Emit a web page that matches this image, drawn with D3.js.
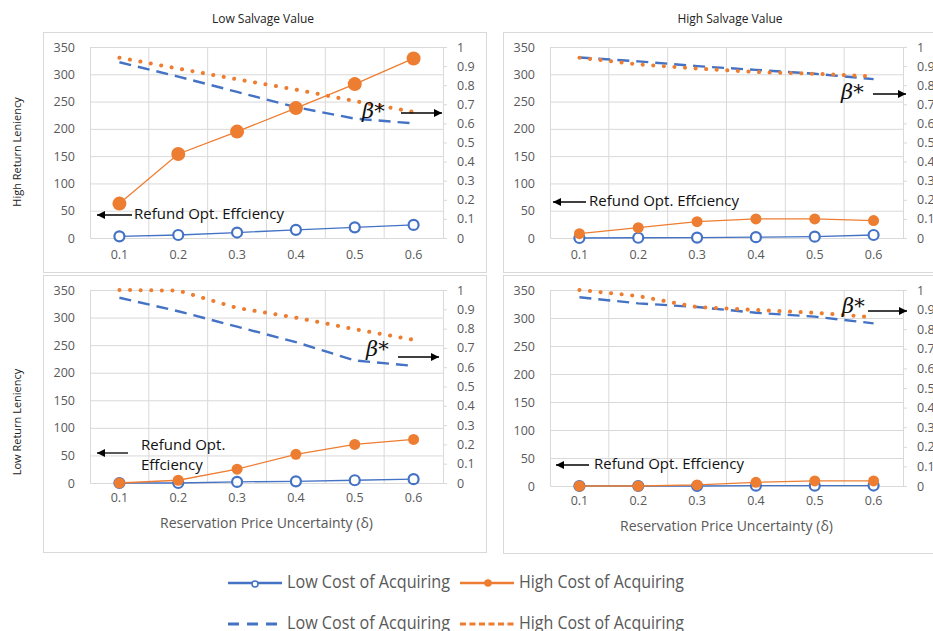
<!DOCTYPE html>
<html>
<head>
<meta charset="utf-8">
<script src="https://cdn.jsdelivr.net/npm/d3@7"></script>
<style>
  html, body { margin: 0; padding: 0; background: #fff; }
  svg { display: block; }
</style>
</head>
<body>
<svg id="chart" width="933" height="631"></svg>
<script>
// ---------------- DATA ----------------
const categories = ["0.1", "0.2", "0.3", "0.4", "0.5", "0.6"];
const leftTicks = [0, 50, 100, 150, 200, 250, 300, 350];
const rightTicks = [0, 0.1, 0.2, 0.3, 0.4, 0.5, 0.6, 0.7, 0.8, 0.9, 1];
const rightTickLabels = ["0", "0.1", "0.2", "0.3", "0.4", "0.5", "0.6", "0.7", "0.8", "0.9", "1"];

const panelTitles = ["Low Salvage Value", "High Salvage Value"];
const rowTitles = ["High Return Leniency", "Low Return Leniency"];
const xAxisTitle = "Reservation Price Uncertainty (\u03b4)";
const seriesNames = ["Low Cost of Acquiring", "High Cost of Acquiring"];

// Refund option efficiency (left axis)
const tlLowCostEff  = [3, 5.5, 10, 15, 19.5, 24];
const tlHighCostEff = [63, 154, 195, 238, 282, 329];
const trLowCostEff  = [0, 0.5, 0.8, 1.5, 2.5, 5.5];
const trHighCostEff = [8, 19, 30, 35, 35, 32];
const blLowCostEff  = [0, 0, 2, 3, 5, 7];
const blHighCostEff = [0, 5, 25, 52, 70, 79];
const brLowCostEff  = [0, 0, 0, 0.5, 0.5, 0.8];
const brHighCostEff = [0, 0, 2, 6.5, 9, 9];

// beta* (right axis)
const tlLowCostBeta  = [0.92, 0.845, 0.765, 0.685, 0.625, 0.60];
const tlHighCostBeta = [0.944, 0.887, 0.831, 0.777, 0.717, 0.66];
const trLowCostBeta  = [0.945, 0.925, 0.90, 0.88, 0.86, 0.832];
const trHighCostBeta = [0.944, 0.909, 0.887, 0.869, 0.86, 0.846];
const blLowCostBeta  = [0.96, 0.89, 0.81, 0.73, 0.635, 0.607];
const blHighCostBeta = [1.0, 0.997, 0.907, 0.857, 0.797, 0.742];
const brLowCostBeta  = [0.963, 0.932, 0.913, 0.884, 0.864, 0.83];
const brHighCostBeta = [1.0, 0.969, 0.913, 0.898, 0.884, 0.861];

// ---------------- STYLE / LAYOUT ----------------
const BLUE = "#4472C4", ORANGE = "#ED7D31", GRID = "#d9d9d9", AXIS_TXT = "#595959";
const FONT = "Open Sans, sans-serif";
const svg = d3.select("#chart");

const defs = svg.append("defs");
defs.append("marker").attr("id", "arrow")
  .attr("viewBox", "0 0 10 10").attr("refX", 10).attr("refY", 5)
  .attr("markerWidth", 10).attr("markerHeight", 8).attr("markerUnits", "userSpaceOnUse")
  .attr("orient", "auto")
  .append("path").attr("d", "M0,0 L10,5 L0,10 z").attr("fill", "#000");

// panel frames
const frames = [
  {x: 43, y: 32, w: 443, h: 240},
  {x: 503, y: 32, w: 440, h: 240},
  {x: 43, y: 275, w: 443, h: 277},
  {x: 503, y: 275, w: 440, h: 278}
];
svg.selectAll("rect.frame").data(frames).join("rect").attr("class", "frame")
  .attr("x", d => d.x + 0.5).attr("y", d => d.y + 0.5).attr("width", d => d.w).attr("height", d => d.h)
  .attr("fill", "none").attr("stroke", GRID).attr("stroke-width", 1);

const panels = [
  {left: 90, right: 443, top: 47, bottom: 238, xlab: 19, low: tlLowCostEff, high: tlHighCostEff, lowB: tlLowCostBeta, highB: tlHighCostBeta, bigDot: true,
   beta: {tx: 362, ty: 112, x1: 401, x2: 442, ay: 113},
   refund: {x1: 132, x2: 97, ay: 215, tx: 134, ty: 215, lines: ["Refund Opt. Effciency"]}},
  {left: 550, right: 903, top: 47, bottom: 238, xlab: 19, low: trLowCostEff, high: trHighCostEff, lowB: trLowCostBeta, highB: trHighCostBeta, bigDot: false,
   beta: {tx: 841, ty: 93, x1: 873, x2: 906, ay: 94},
   refund: {x1: 586, x2: 553, ay: 202, tx: 589, ty: 202, lines: ["Refund Opt. Effciency"]}},
  {left: 90, right: 443, top: 290, bottom: 483, xlab: 17, low: blLowCostEff, high: blHighCostEff, lowB: blLowCostBeta, highB: blHighCostBeta, bigDot: false, xTitle: 524,
   beta: {tx: 366, ty: 350, x1: 398, x2: 439, ay: 357},
   refund: {x1: 128, x2: 97, ay: 453, tx: 141, ty: 446, lines: ["Refund Opt.", "Effciency"]}},
  {left: 550, right: 903, top: 290, bottom: 486, xlab: 17, low: brLowCostEff, high: brHighCostEff, lowB: brLowCostBeta, highB: brHighCostBeta, bigDot: false, xTitle: 527,
   beta: {tx: 842, ty: 307, x1: 868, x2: 907, ay: 311},
   refund: {x1: 589, x2: 556, ay: 465, tx: 594, ty: 465, lines: ["Refund Opt. Effciency"]}}
];

panels.forEach((p, i) => {
  const g = svg.append("g");
  const x = d3.scaleBand().domain(categories).range([p.left, p.right]);
  const cx = c => x(c) + x.bandwidth() / 2;
  const yL = d3.scaleLinear().domain([0, 350]).range([p.bottom, p.top]);
  const yR = d3.scaleLinear().domain([0, 1]).range([p.bottom, p.top]);

  // horizontal gridlines
  g.append("g").attr("transform", `translate(${p.left},0)`)
    .call(d3.axisLeft(yL).tickValues(leftTicks.slice(1)).tickSize(-(p.right - p.left)).tickFormat(""))
    .call(s => s.select(".domain").remove())
    .call(s => s.selectAll("line").attr("stroke", GRID));
  // vertical gridlines at category boundaries
  const bounds = categories.slice(1).map(c => x(c));
  g.selectAll("line.vg").data(bounds).join("line").attr("class", "vg")
    .attr("x1", d => d).attr("x2", d => d).attr("y1", p.top).attr("y2", p.bottom)
    .attr("stroke", GRID);

  // left axis
  g.append("g").attr("transform", `translate(${p.left},0)`)
    .call(d3.axisLeft(yL).tickValues(leftTicks).tickSize(0).tickPadding(15))
    .call(s => s.select(".domain").attr("stroke", GRID))
    .call(s => s.selectAll("text").attr("fill", AXIS_TXT).attr("font-size", 12.5).attr("font-family", FONT));
  // right axis
  g.append("g").attr("transform", `translate(${p.right},0)`)
    .call(d3.axisRight(yR).tickValues(rightTicks).tickSize(4).tickPadding(10).tickFormat((d, j) => rightTickLabels[j]))
    .call(s => s.select(".domain").attr("stroke", GRID))
    .call(s => s.selectAll("line").attr("stroke", GRID))
    .call(s => s.selectAll("text").attr("fill", AXIS_TXT).attr("font-size", 12.5).attr("font-family", FONT));
  // bottom axis
  g.append("g").attr("transform", `translate(0,${p.bottom})`)
    .call(d3.axisBottom(x).tickSize(0).tickPadding(p.xlab - 7))
    .call(s => s.select(".domain").attr("stroke", GRID))
    .call(s => s.selectAll("text").attr("fill", AXIS_TXT).attr("font-size", 12.5).attr("font-family", FONT));

  // beta lines (right axis)
  const lineR = d3.line().x((d, j) => cx(categories[j])).y(d => yR(d));
  g.append("path").datum(p.lowB).attr("d", lineR).attr("fill", "none")
    .attr("stroke", BLUE).attr("stroke-width", 2.4).attr("stroke-dasharray", "12,7");
  g.append("path").datum(p.highB).attr("d", lineR).attr("fill", "none")
    .attr("stroke", ORANGE).attr("stroke-width", 4).attr("stroke-linecap", "round").attr("stroke-dasharray", "0.1,10.5");

  // efficiency lines (left axis)
  const lineL = d3.line().x((d, j) => cx(categories[j])).y(d => yL(d));
  g.append("path").datum(p.low).attr("d", lineL).attr("fill", "none").attr("stroke", BLUE).attr("stroke-width", 1.3);
  g.selectAll("circle.lo").data(p.low).join("circle").attr("class", "lo")
    .attr("cx", (d, j) => cx(categories[j])).attr("cy", d => yL(d)).attr("r", 5)
    .attr("fill", "#fff").attr("stroke", BLUE).attr("stroke-width", 2.2);
  g.append("path").datum(p.high).attr("d", lineL).attr("fill", "none").attr("stroke", ORANGE).attr("stroke-width", 1.3);
  g.selectAll("circle.hi").data(p.high).join("circle").attr("class", "hi")
    .attr("cx", (d, j) => cx(categories[j])).attr("cy", d => yL(d)).attr("r", p.bigDot ? 7 : 5.5)
    .attr("fill", ORANGE);

  // annotations
  g.append("line").attr("x1", p.beta.x1).attr("x2", p.beta.x2).attr("y1", p.beta.ay).attr("y2", p.beta.ay)
    .attr("stroke", "#000").attr("stroke-width", 1.3).attr("marker-end", "url(#arrow)");
  g.append("text").attr("x", p.beta.tx).attr("y", p.beta.ty).attr("dominant-baseline", "middle")
    .attr("font-family", "DejaVu Serif, serif").attr("font-style", "italic").attr("font-size", 21).attr("fill", "#111")
    .text("\u03b2*");
  g.append("line").attr("x1", p.refund.x1).attr("x2", p.refund.x2).attr("y1", p.refund.ay).attr("y2", p.refund.ay)
    .attr("stroke", "#000").attr("stroke-width", 1.3).attr("marker-end", "url(#arrow)");
  p.refund.lines.forEach((t, k) => {
    g.append("text").attr("x", p.refund.tx).attr("y", p.refund.ty + k * 20).attr("dominant-baseline", "middle")
      .attr("font-family", FONT).attr("font-size", 15).attr("fill", "#111").text(t);
  });

  if (p.xTitle) {
    g.append("text").attr("x", (p.left + p.right) / 2).attr("y", p.xTitle).attr("text-anchor", "middle")
      .attr("dominant-baseline", "middle").attr("font-family", FONT).attr("font-size", 14)
      .attr("fill", AXIS_TXT).text(xAxisTitle);
  }
});

// panel titles
[[263, 0], [730, 1]].forEach(([xx, k]) => {
  svg.append("text").attr("x", xx).attr("y", 20).attr("text-anchor", "middle").attr("dominant-baseline", "middle")
    .attr("font-family", FONT).attr("font-size", 12).attr("fill", "#222").text(panelTitles[k]);
});
// row titles
[[152, 0], [422, 1]].forEach(([yy, k]) => {
  svg.append("text").attr("transform", `translate(18,${yy}) rotate(-90)`).attr("text-anchor", "middle")
    .attr("dominant-baseline", "middle").attr("font-family", FONT).attr("font-size", 11)
    .attr("fill", "#222").text(rowTitles[k]);
});

// legend
const legend = [
  {x: 228, y: 583, color: BLUE, type: "solidOpen", name: seriesNames[0], w: 163},
  {x: 460, y: 583, color: ORANGE, type: "solidFilled", name: seriesNames[1], w: 165},
  {x: 228, y: 624, color: BLUE, type: "dash", name: seriesNames[0], w: 163},
  {x: 460, y: 624, color: ORANGE, type: "dot", name: seriesNames[1], w: 165}
];
const lg = svg.append("g");
legend.forEach(l => {
  const ln = lg.append("line").attr("x1", l.x).attr("x2", l.x + 54).attr("y1", l.y).attr("y2", l.y)
    .attr("stroke", l.color);
  if (l.type === "dash") ln.attr("stroke-width", 3).attr("stroke-dasharray", "11,8");
  else if (l.type === "dot") ln.attr("stroke-width", 3).attr("stroke-dasharray", "6,3.5");
  else ln.attr("stroke-width", 2.5);
  if (l.type === "solidOpen") lg.append("circle").attr("cx", l.x + 27).attr("cy", l.y + 1).attr("r", 3)
    .attr("fill", "#fff").attr("stroke", l.color).attr("stroke-width", 1.5);
  if (l.type === "solidFilled") lg.append("circle").attr("cx", l.x + 28).attr("cy", l.y).attr("r", 3.8).attr("fill", l.color);
  lg.append("text").attr("x", l.x + 59).attr("y", l.y).attr("dominant-baseline", "middle")
    .attr("font-family", FONT).attr("font-size", 19)
    .attr("textLength", l.w).attr("lengthAdjust", "spacingAndGlyphs")
    .attr("fill", AXIS_TXT).text(l.name);
});
</script>
</body>
</html>
